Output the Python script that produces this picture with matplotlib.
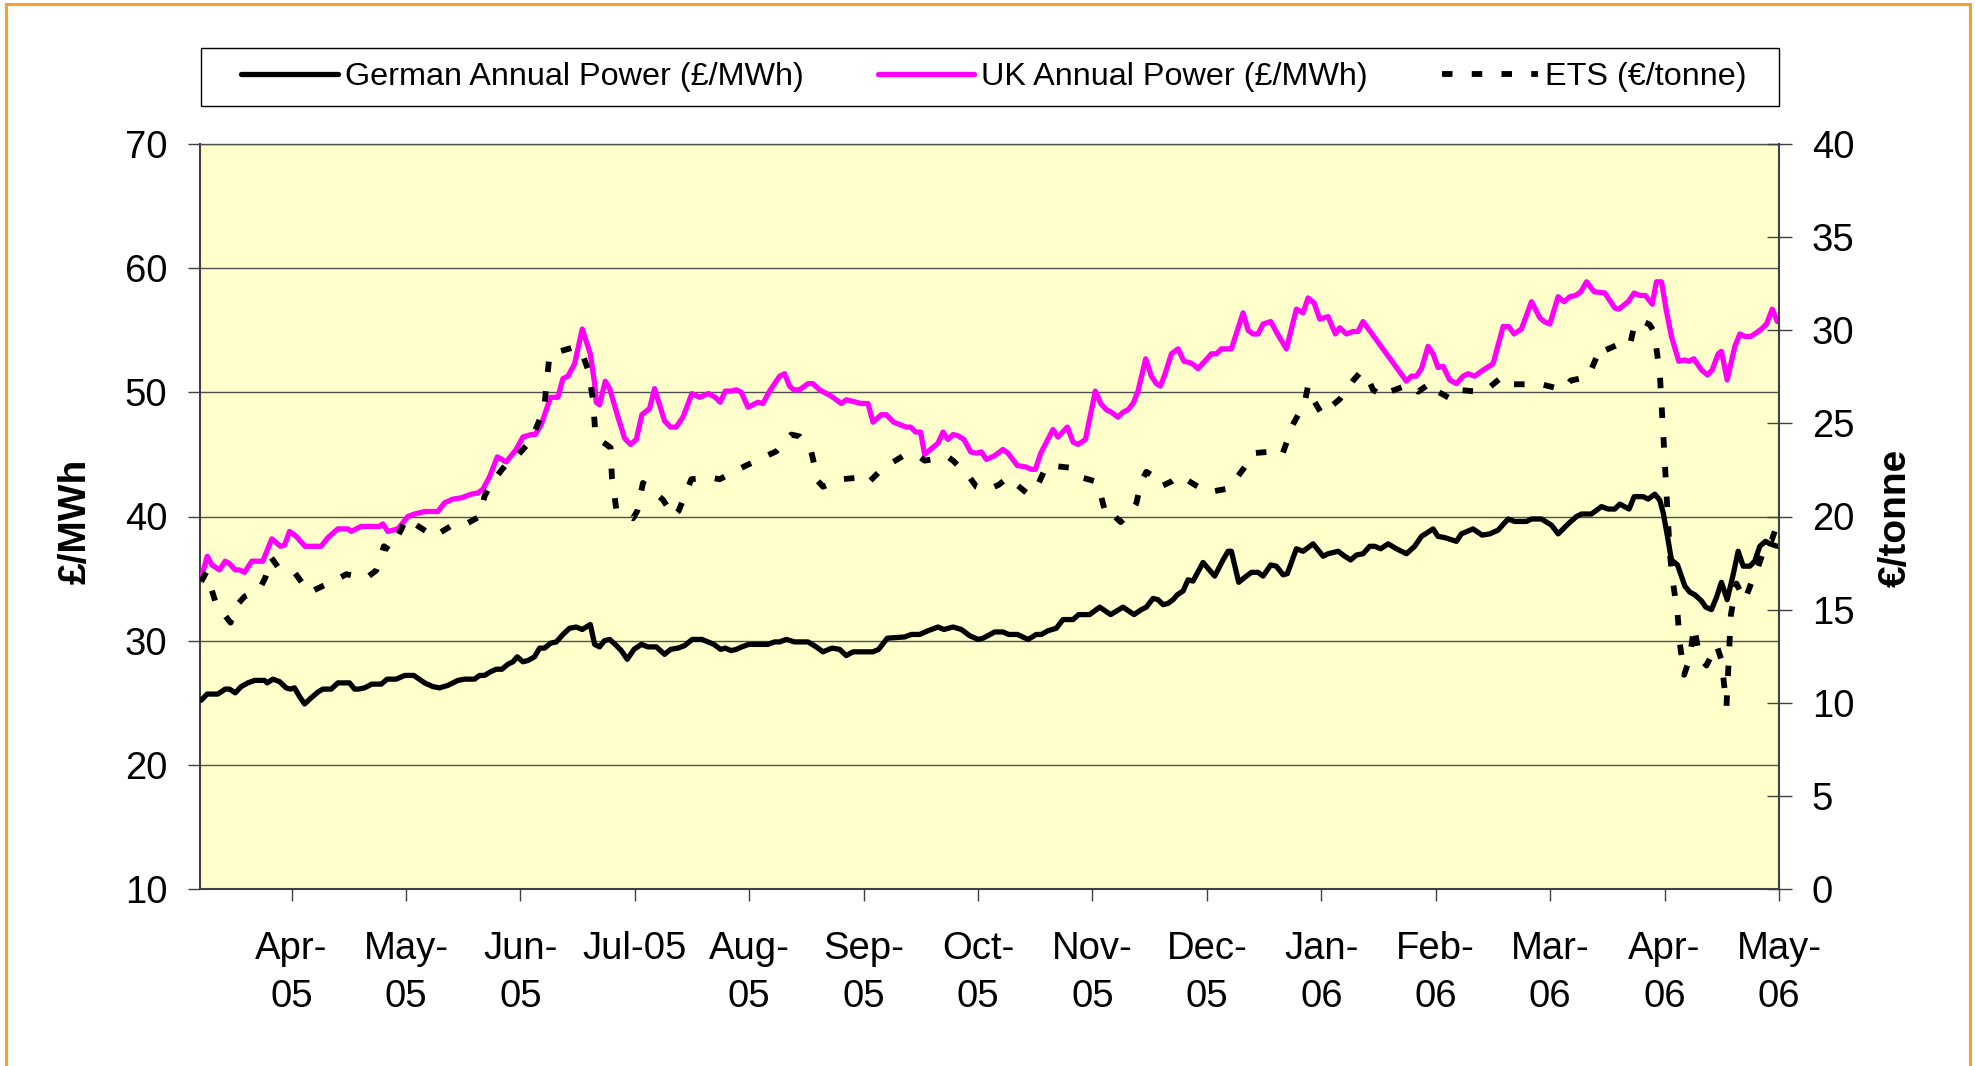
import matplotlib
matplotlib.use("Agg")
import matplotlib.pyplot as plt
from matplotlib.lines import Line2D
from matplotlib.patches import Rectangle

# ---------------- data ----------------
# x positions are in months relative to April 2005 (0 = Apr-05 tick)
month_labels = ["Apr-\n05", "May-\n05", "Jun-\n05", "Jul-05", "Aug-\n05", "Sep-\n05",
                "Oct-\n05", "Nov-\n05", "Dec-\n05", "Jan-\n06", "Feb-\n06", "Mar-\n06",
                "Apr-\n06", "May-\n06"]
left_ticks = [10, 20, 30, 40, 50, 60, 70]
right_ticks = [0, 5, 10, 15, 20, 25, 30, 35, 40]

series_names = ["German Annual Power (£/MWh)", "UK Annual Power (£/MWh)", "ETS (€/tonne)"]

uk_x = [-0.790, -0.737, -0.696, -0.629, -0.580, -0.542, -0.492, -0.455, -0.411, -0.347,
        -0.251, -0.172, -0.096, -0.061, -0.017, 0.041, 0.119, 0.259, 0.318, 0.405,
        0.492, 0.522, 0.609, 0.769, 0.798, 0.842, 0.929, 1.017, 1.075, 1.163,
        1.279, 1.337, 1.410, 1.483, 1.571, 1.629, 1.673, 1.731, 1.798, 1.876,
        1.964, 2.022, 2.095, 2.130, 2.182, 2.264, 2.328, 2.372, 2.416, 2.474,
        2.541, 2.611, 2.649, 2.663, 2.692, 2.742, 2.780, 2.853, 2.911, 2.963,
        3.013, 3.062, 3.129, 3.173, 3.260, 3.313, 3.362, 3.421, 3.499, 3.566,
        3.645, 3.704, 3.747, 3.791, 3.843, 3.887, 3.931, 3.989, 4.076, 4.120,
        4.178, 4.266, 4.309, 4.353, 4.391, 4.440, 4.513, 4.557, 4.615, 4.717,
        4.805, 4.848, 4.936, 4.980, 5.038, 5.082, 5.154, 5.198, 5.262, 5.373,
        5.411, 5.455, 5.498, 5.533, 5.650, 5.694, 5.737, 5.781, 5.825, 5.877,
        5.936, 5.985, 6.029, 6.073, 6.146, 6.218, 6.262, 6.344, 6.414, 6.466,
        6.501, 6.548, 6.655, 6.699, 6.780, 6.830, 6.874, 6.938, 7.025, 7.072,
        7.122, 7.165, 7.223, 7.267, 7.311, 7.355, 7.398, 7.465, 7.515, 7.559,
        7.594, 7.631, 7.690, 7.748, 7.800, 7.850, 7.888, 7.923, 7.981, 8.039,
        8.083, 8.127, 8.214, 8.316, 8.360, 8.404, 8.447, 8.491, 8.558, 8.617,
        8.695, 8.782, 8.841, 8.884, 8.937, 8.986, 9.059, 9.123, 9.161, 9.219,
        9.278, 9.321, 9.365, 9.744, 9.787, 9.831, 9.875, 9.933, 9.977, 10.020,
        10.064, 10.122, 10.181, 10.239, 10.283, 10.341, 10.399, 10.501, 10.589, 10.638,
        10.685, 10.749, 10.837, 10.910, 10.948, 10.997, 11.070, 11.122, 11.172, 11.222,
        11.268, 11.318, 11.385, 11.478, 11.565, 11.600, 11.682, 11.734, 11.784, 11.833,
        11.892, 11.929, 11.973, 12.017, 12.060, 12.124, 12.177, 12.212, 12.256, 12.323,
        12.375, 12.416, 12.468, 12.497, 12.547, 12.614, 12.658, 12.702, 12.753, 12.803,
        12.847, 12.891, 12.941, 12.985]
uk_val = [35.0, 36.8, 36.1, 35.7, 36.4, 36.2, 35.7, 35.7, 35.5, 36.4,
          36.4, 38.2, 37.6, 37.7, 38.8, 38.4, 37.6, 37.6, 38.3, 39.0,
          39.0, 38.8, 39.2, 39.2, 39.4, 38.8, 39.0, 40.0, 40.2, 40.4,
          40.4, 41.1, 41.4, 41.5, 41.8, 41.9, 42.2, 43.2, 44.8, 44.4,
          45.4, 46.4, 46.6, 46.6, 47.4, 49.6, 49.6, 51.1, 51.3, 52.3,
          55.1, 53.1, 50.7, 49.2, 49.0, 50.9, 50.3, 48.0, 46.3, 45.8,
          46.2, 48.2, 48.7, 50.3, 47.7, 47.2, 47.2, 48.0, 49.9, 49.6,
          49.9, 49.6, 49.2, 50.1, 50.1, 50.2, 50.0, 48.8, 49.2, 49.1,
          50.1, 51.3, 51.5, 50.5, 50.2, 50.2, 50.7, 50.7, 50.2, 49.7,
          49.1, 49.4, 49.2, 49.1, 49.1, 47.6, 48.2, 48.2, 47.6, 47.2,
          47.2, 46.8, 46.8, 45.0, 45.9, 46.8, 46.2, 46.6, 46.5, 46.2,
          45.2, 45.1, 45.2, 44.6, 44.9, 45.4, 45.1, 44.1, 44.0, 43.8,
          43.8, 45.1, 47.0, 46.4, 47.2, 46.0, 45.8, 46.2, 50.1, 49.1,
          48.6, 48.4, 48.0, 48.4, 48.6, 49.1, 50.1, 52.7, 51.3, 50.7,
          50.5, 51.4, 53.1, 53.5, 52.5, 52.4, 52.2, 51.9, 52.5, 53.1,
          53.1, 53.5, 53.5, 56.4, 55.0, 54.7, 54.7, 55.5, 55.7, 54.7,
          53.5, 56.7, 56.4, 57.6, 57.2, 55.9, 56.1, 54.7, 55.2, 54.7,
          54.9, 54.9, 55.7, 50.9, 51.3, 51.3, 51.9, 53.7, 53.1, 52.0,
          52.1, 51.0, 50.7, 51.3, 51.5, 51.3, 51.7, 52.3, 55.3, 55.3,
          54.7, 55.1, 57.3, 56.0, 55.7, 55.5, 57.7, 57.3, 57.7, 57.8,
          58.1, 58.9, 58.1, 58.0, 56.8, 56.7, 57.3, 58.0, 57.8, 57.8,
          57.1, 58.9, 58.9, 56.5, 54.5, 52.5, 52.6, 52.5, 52.7, 51.8,
          51.4, 51.8, 53.1, 53.3, 51.0, 53.7, 54.7, 54.5, 54.5, 54.8,
          55.1, 55.5, 56.7, 55.7]

de_x = [-0.790, -0.737, -0.644, -0.580, -0.542, -0.492, -0.440, -0.382, -0.323, -0.236,
        -0.213, -0.163, -0.105, -0.047, -0.009, 0.026, 0.070, 0.114, 0.172, 0.236,
        0.274, 0.347, 0.405, 0.507, 0.551, 0.586, 0.638, 0.702, 0.784, 0.836,
        0.915, 0.988, 1.069, 1.163, 1.235, 1.294, 1.367, 1.454, 1.512, 1.600,
        1.643, 1.687, 1.740, 1.789, 1.839, 1.891, 1.935, 1.973, 2.022, 2.066,
        2.124, 2.168, 2.212, 2.264, 2.314, 2.372, 2.430, 2.488, 2.541, 2.611,
        2.649, 2.692, 2.735, 2.780, 2.829, 2.882, 2.934, 2.993, 3.057, 3.115,
        3.188, 3.260, 3.313, 3.377, 3.435, 3.502, 3.587, 3.639, 3.692, 3.750,
        3.791, 3.843, 3.887, 3.936, 3.995, 4.164, 4.222, 4.266, 4.324, 4.397,
        4.513, 4.586, 4.644, 4.723, 4.790, 4.848, 4.907, 5.082, 5.131, 5.207,
        5.359, 5.417, 5.490, 5.563, 5.650, 5.702, 5.781, 5.854, 5.927, 6.000,
        6.044, 6.146, 6.218, 6.268, 6.344, 6.437, 6.509, 6.553, 6.611, 6.684,
        6.742, 6.830, 6.879, 6.975, 7.063, 7.159, 7.267, 7.363, 7.427, 7.471,
        7.529, 7.573, 7.617, 7.660, 7.704, 7.742, 7.792, 7.835, 7.879, 7.966,
        8.068, 8.141, 8.185, 8.214, 8.278, 8.331, 8.389, 8.447, 8.491, 8.558,
        8.607, 8.666, 8.703, 8.782, 8.841, 8.928, 9.016, 9.059, 9.147, 9.205,
        9.257, 9.307, 9.365, 9.423, 9.467, 9.519, 9.584, 9.657, 9.744, 9.816,
        9.875, 9.927, 9.977, 10.020, 10.079, 10.181, 10.224, 10.326, 10.405, 10.472,
        10.545, 10.632, 10.691, 10.793, 10.837, 10.924, 11.012, 11.070, 11.157, 11.230,
        11.274, 11.361, 11.448, 11.507, 11.565, 11.609, 11.690, 11.734, 11.813, 11.857,
        11.915, 11.959, 11.988, 12.025, 12.060, 12.113, 12.177, 12.221, 12.264, 12.323,
        12.360, 12.410, 12.454, 12.497, 12.547, 12.599, 12.643, 12.687, 12.745, 12.788,
        12.832, 12.882, 12.920, 12.985]
de_val = [25.2, 25.7, 25.7, 26.1, 26.1, 25.8, 26.3, 26.6, 26.8, 26.8,
          26.6, 26.9, 26.7, 26.2, 26.1, 26.2, 25.5, 24.9, 25.4, 25.9,
          26.1, 26.1, 26.6, 26.6, 26.1, 26.1, 26.2, 26.5, 26.5, 26.9,
          26.9, 27.2, 27.2, 26.6, 26.3, 26.2, 26.4, 26.8, 26.9, 26.9,
          27.2, 27.2, 27.5, 27.7, 27.7, 28.1, 28.3, 28.7, 28.3, 28.4,
          28.7, 29.4, 29.4, 29.8, 29.9, 30.5, 31.0, 31.1, 30.9, 31.3,
          29.7, 29.5, 30.0, 30.1, 29.7, 29.2, 28.5, 29.3, 29.7, 29.5,
          29.5, 28.9, 29.3, 29.4, 29.6, 30.1, 30.1, 29.9, 29.7, 29.3,
          29.4, 29.2, 29.3, 29.5, 29.7, 29.7, 29.9, 29.9, 30.1, 29.9,
          29.9, 29.5, 29.1, 29.4, 29.3, 28.8, 29.1, 29.1, 29.3, 30.2,
          30.3, 30.5, 30.5, 30.8, 31.1, 30.9, 31.1, 30.9, 30.4, 30.1,
          30.2, 30.7, 30.7, 30.5, 30.5, 30.1, 30.5, 30.5, 30.8, 31.0,
          31.7, 31.7, 32.1, 32.1, 32.7, 32.1, 32.7, 32.1, 32.5, 32.7,
          33.4, 33.3, 32.9, 33.0, 33.3, 33.7, 34.0, 34.9, 34.8, 36.3,
          35.2, 36.5, 37.2, 37.2, 34.7, 35.1, 35.5, 35.5, 35.2, 36.1,
          36.0, 35.3, 35.4, 37.4, 37.2, 37.8, 36.8, 37.0, 37.2, 36.8,
          36.5, 36.9, 37.0, 37.6, 37.6, 37.4, 37.8, 37.4, 37.0, 37.6,
          38.4, 38.7, 39.0, 38.4, 38.3, 38.0, 38.6, 39.0, 38.5, 38.6,
          38.9, 39.8, 39.6, 39.6, 39.8, 39.8, 39.3, 38.6, 39.4, 40.0,
          40.2, 40.2, 40.8, 40.6, 40.6, 41.0, 40.6, 41.6, 41.6, 41.4,
          41.8, 41.3, 40.3, 38.4, 36.5, 36.1, 34.4, 33.9, 33.7, 33.2,
          32.7, 32.5, 33.5, 34.7, 33.3, 35.3, 37.2, 36.0, 36.0, 36.4,
          37.6, 38.0, 37.8, 37.6]

ets_x = [-0.790, -0.746, -0.659, -0.533, -0.484, -0.411, -0.280, -0.230, -0.178, -0.120,
         0.026, 0.157, 0.216, 0.420, 0.478, 0.653, 0.740, 0.807, 0.857, 0.959,
         1.002, 1.177, 1.235, 1.396, 1.498, 1.643, 1.687, 1.760, 1.862, 1.920,
         2.051, 2.095, 2.168, 2.206, 2.255, 2.474, 2.532, 2.590, 2.634, 2.657,
         2.721, 2.788, 2.800, 2.838, 2.984, 3.022, 3.071, 3.115, 3.246, 3.339,
         3.383, 3.494, 3.654, 3.741, 3.960, 4.237, 4.368, 4.440, 4.542, 4.601,
         4.645, 4.805, 4.980, 5.038, 5.169, 5.358, 5.490, 5.533, 5.737, 5.781,
         5.927, 5.985, 6.073, 6.180, 6.262, 6.437, 6.509, 6.596, 6.684, 6.830,
         6.903, 7.019, 7.054, 7.121, 7.179, 7.246, 7.345, 7.383, 7.427, 7.471,
         7.550, 7.594, 7.696, 7.762, 7.922, 8.010, 8.185, 8.228, 8.360, 8.404,
         8.593, 8.657, 8.716, 8.739, 8.820, 8.850, 8.884, 8.908, 8.995, 9.044,
         9.103, 9.161, 9.278, 9.350, 9.423, 9.452, 9.554, 9.598, 9.773, 9.846,
         9.962, 10.020, 10.137, 10.199, 10.370, 10.443, 10.580, 10.647, 10.924, 11.113,
         11.180, 11.332, 11.367, 11.443, 11.472, 11.618, 11.697, 11.741, 11.805, 11.870,
         11.909, 11.958, 11.996, 12.017, 12.046, 12.075, 12.113, 12.133, 12.171, 12.220,
         12.258, 12.308, 12.366, 12.454, 12.497, 12.541, 12.579, 12.628, 12.701, 12.774,
         12.812, 12.890, 12.934, 12.963]
ets_val = [16.5, 17.0, 15.3, 14.3, 15.2, 15.7, 16.1, 16.7, 17.8, 17.3,
           17.0, 15.9, 16.1, 16.7, 16.9, 16.7, 17.1, 18.4, 18.2, 19.3,
           19.9, 19.2, 18.9, 19.5, 19.5, 20.0, 21.1, 21.9, 22.7, 22.9,
           23.8, 24.1, 25.2, 25.7, 28.7, 29.1, 28.9, 27.9, 26.3, 24.3,
           24.0, 23.7, 22.1, 20.4, 19.9, 20.3, 21.8, 21.6, 20.9, 20.0,
           20.3, 22.0, 22.1, 22.0, 22.7, 23.5, 24.4, 24.3, 23.5, 21.9,
           21.6, 22.0, 22.1, 21.8, 22.6, 23.3, 23.2, 23.0, 23.2, 23.0,
           22.1, 21.6, 21.4, 21.7, 22.1, 21.2, 21.5, 22.7, 22.7, 22.6,
           22.1, 21.9, 21.6, 20.0, 20.1, 19.7, 20.3, 20.7, 21.9, 22.4,
           22.1, 21.6, 21.9, 22.2, 21.6, 21.3, 21.5, 21.8, 22.9, 23.4,
           23.5, 23.3, 24.3, 24.8, 25.7, 26.0, 27.0, 26.5, 25.6, 26.1,
           26.0, 26.3, 27.3, 27.8, 27.2, 26.8, 26.4, 26.7, 27.1, 26.7,
           27.2, 26.7, 26.3, 26.8, 26.7, 26.8, 27.5, 27.1, 27.1, 26.8,
           27.3, 27.5, 28.0, 29.1, 28.9, 29.3, 29.2, 30.4, 30.5, 30.3,
           29.9, 27.7, 23.6, 21.2, 18.0, 16.4, 14.8, 13.2, 11.5, 12.4,
           14.1, 12.4, 12.0, 13.1, 12.3, 9.8, 14.7, 16.4, 15.5, 16.7,
           17.2, 18.6, 18.7, 19.2]

# ---------------- figure ----------------
W, H = 1975, 1066
fig = plt.figure(figsize=(W / 100, H / 100), dpi=100)
plt.rcParams['font.family'] = ['Liberation Sans', 'DejaVu Sans']

# plot area in pixels
L, R, T, B = 200, 1779, 144, 889
ax = fig.add_axes([L / W, 1 - B / H, (R - L) / W, (B - T) / H])
ax.set_facecolor('#FFFFCC')
ax2 = ax.twinx()

spine_c = '#404040'
grid_c = '#505050'

l_de, = ax.plot(de_x, de_val, color='black', lw=3.8, solid_joinstyle='round',
                solid_capstyle='round', zorder=3)
l_uk, = ax.plot(uk_x, uk_val, color='#FF00FF', lw=3.8, solid_joinstyle='round',
                solid_capstyle='round', zorder=3)
l_ets, = ax2.plot(ets_x, ets_val, color='black', lw=4.2,
                  linestyle=(0, (1.8, 3.3)), dash_capstyle='butt', zorder=3)

ax.set_xlim(-0.80, 13.0)
ax.set_ylim(10, 70)
ax2.set_ylim(0, 40)

ax.set_xticks(range(len(month_labels)))
ax.set_xticklabels(month_labels, fontsize=27.5, linespacing=1.45)
ax.set_yticks(left_ticks)
ax.set_yticklabels([str(v) for v in left_ticks], fontsize=27.5)
ax2.set_yticks(right_ticks)
ax2.set_yticklabels([str(v) for v in right_ticks], fontsize=27.5)

ax.tick_params(axis='x', direction='out', length=8.6, width=1.0, color=spine_c, pad=21.5)
ax.tick_params(axis='y', direction='out', length=8.6, width=1.0, color=spine_c, pad=15)
ax2.tick_params(axis='y', direction='inout', length=18, width=1.0, color=spine_c, pad=14.7)

ax.yaxis.grid(True, color=grid_c, lw=1.0)
ax.set_axisbelow(True)

for s in ['left', 'bottom']:
    ax.spines[s].set_color(spine_c)
    ax.spines[s].set_linewidth(1.5)
ax.spines['top'].set_color(grid_c)
ax.spines['top'].set_linewidth(1.0)
ax.spines['right'].set_visible(False)
for s in ['left', 'bottom', 'top']:
    ax2.spines[s].set_visible(False)
ax2.spines['right'].set_color(spine_c)
ax2.spines['right'].set_linewidth(1.5)

# axis titles
fig.text(76 / W, 1 - 521 / H, '£/MWh', rotation=90, ha='center', va='center',
         fontsize=28, fontweight='bold')
fig.text(1896 / W, 1 - 518 / H, '€/tonne', rotation=90, ha='center', va='center',
         fontsize=28, fontweight='bold')

# legend box and legend
fig.patches.append(Rectangle((201 / W, 1 - 106 / H), 1578 / W, 58 / H,
                             transform=fig.transFigure, facecolor='white',
                             edgecolor='black', lw=1.0, zorder=1))
leg = fig.legend([l_de, l_uk, l_ets], series_names, loc='center',
                 bbox_to_anchor=(994 / W, 1 - 77 / H), ncol=3, frameon=False,
                 fontsize=23.3, handlelength=2.98, handletextpad=0.22,
                 columnspacing=2.29, borderpad=0.0)

# orange outer border (no bottom edge)
oc = '#F7A12A'
bx0, bx1, by = 6, 1970, 4
fig.add_artist(Line2D([bx0 / W, bx0 / W], [0, 1 - by / H], transform=fig.transFigure,
                      color=oc, lw=2.2))
fig.add_artist(Line2D([bx0 / W, bx1 / W], [1 - by / H, 1 - by / H], transform=fig.transFigure,
                      color=oc, lw=2.2))
fig.add_artist(Line2D([bx1 / W, bx1 / W], [0, 1 - by / H], transform=fig.transFigure,
                      color=oc, lw=2.2))

fig.savefig('out.png', dpi=100, facecolor='white')
